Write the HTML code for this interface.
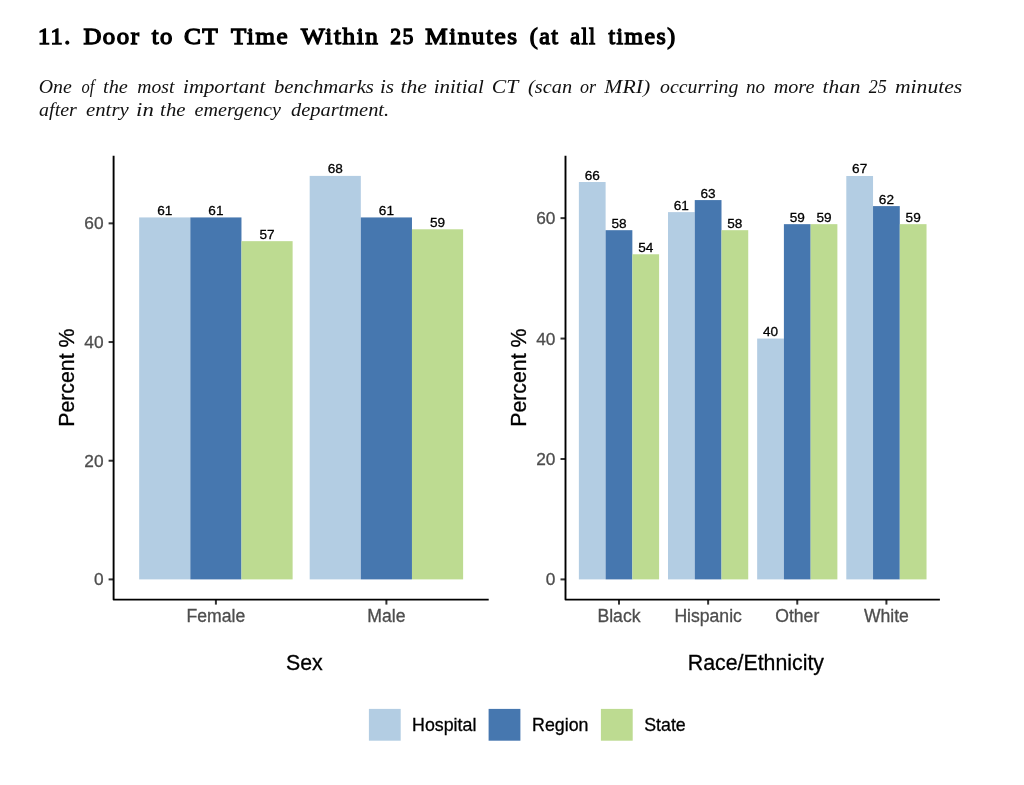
<!DOCTYPE html>
<html><head><meta charset="utf-8">
<style>
html,body{margin:0;padding:0;background:#fff;width:1024px;height:785px;overflow:hidden;}
svg{position:absolute;left:0;top:0;will-change:transform;filter:blur(0.3px);}
.sans{font-family:"Liberation Sans",sans-serif;}
.serif{font-family:"Liberation Serif",serif;}
</style></head>
<body>
<svg width="1024" height="785" viewBox="0 0 1024 785">
<g class="serif">
<text transform="translate(37.89,44.4) scale(1.01,1)" font-size="24" fill="#000" stroke="#000" stroke-width="1.3" letter-spacing="1.5">11.</text>
<text transform="translate(83.4,44.4) scale(1.0327,1)" font-size="24" fill="#000" stroke="#000" stroke-width="1.3" letter-spacing="1.5">Door</text>
<text transform="translate(151.63,44.4) scale(1.0286,1)" font-size="24" fill="#000" stroke="#000" stroke-width="1.3" letter-spacing="1.5">to</text>
<text transform="translate(183.9,44.4) scale(1.0545,1)" font-size="24" fill="#000" stroke="#000" stroke-width="1.3" letter-spacing="1.5">CT</text>
<text transform="translate(231.04,44.4) scale(1.0411,1)" font-size="24" fill="#000" stroke="#000" stroke-width="1.3" letter-spacing="1.5">Time</text>
<text transform="translate(301.05,44.4) scale(1.0493,1)" font-size="24" fill="#000" stroke="#000" stroke-width="1.3" letter-spacing="1.5">Within</text>
<text transform="translate(390.3,44.4) scale(0.9077,1)" font-size="24" fill="#000" stroke="#000" stroke-width="1.3" letter-spacing="1.5">25</text>
<text transform="translate(425.3,44.4) scale(1.0466,1)" font-size="24" fill="#000" stroke="#000" stroke-width="1.3" letter-spacing="1.5">Minutes</text>
<text transform="translate(529.7,44.4) scale(1.0,1)" font-size="24" fill="#000" stroke="#000" stroke-width="1.3" letter-spacing="1.5">(at</text>
<text transform="translate(570.3,44.4) scale(0.9161,1)" font-size="24" fill="#000" stroke="#000" stroke-width="1.3" letter-spacing="1.5">all</text>
<text transform="translate(608.49,44.4) scale(0.987,1)" font-size="24" fill="#000" stroke="#000" stroke-width="1.3" letter-spacing="1.5">times)</text>
<text transform="translate(38.67,93.2) scale(1.0323,1)" font-size="19.2" font-style="italic" fill="#111">One</text>
<text transform="translate(81.5,93.2) scale(0.8588,1)" font-size="19.2" font-style="italic" fill="#111">of</text>
<text transform="translate(103.04,93.2) scale(1.0591,1)" font-size="19.2" font-style="italic" fill="#111">the</text>
<text transform="translate(137.3,93.2) scale(1.0243,1)" font-size="19.2" font-style="italic" fill="#111">most</text>
<text transform="translate(183.11,93.2) scale(1.0853,1)" font-size="19.2" font-style="italic" fill="#111">important</text>
<text transform="translate(273.92,93.2) scale(1.078,1)" font-size="19.2" font-style="italic" fill="#111">benchmarks</text>
<text transform="translate(379.9,93.2) scale(1.1,1)" font-size="19.2" font-style="italic" fill="#111">is</text>
<text transform="translate(400.42,93.2) scale(1.125,1)" font-size="19.2" font-style="italic" fill="#111">the</text>
<text transform="translate(433.71,93.2) scale(1.0933,1)" font-size="19.2" font-style="italic" fill="#111">initial</text>
<text transform="translate(491.87,93.2) scale(1.1292,1)" font-size="19.2" font-style="italic" fill="#111">CT</text>
<text transform="translate(528.1,93.2) scale(1.0585,1)" font-size="19.2" font-style="italic" fill="#111">(scan</text>
<text transform="translate(579.9,93.2) scale(0.9412,1)" font-size="19.2" font-style="italic" fill="#111">or</text>
<text transform="translate(604.3,93.2) scale(1.1325,1)" font-size="19.2" font-style="italic" fill="#111">MRI)</text>
<text transform="translate(660.1,93.2) scale(1.0333,1)" font-size="19.2" font-style="italic" fill="#111">occurring</text>
<text transform="translate(746.0,93.2) scale(0.9947,1)" font-size="19.2" font-style="italic" fill="#111">no</text>
<text transform="translate(773.7,93.2) scale(1.0513,1)" font-size="19.2" font-style="italic" fill="#111">more</text>
<text transform="translate(822.59,93.2) scale(1.1125,1)" font-size="19.2" font-style="italic" fill="#111">than</text>
<text transform="translate(868.7,93.2) scale(0.9421,1)" font-size="19.2" font-style="italic" fill="#111">25</text>
<text transform="translate(895.0,93.2) scale(1.1254,1)" font-size="19.2" font-style="italic" fill="#111">minutes</text>
<text transform="translate(39.1,116.4) scale(1.0405,1)" font-size="19.2" font-style="italic" fill="#111">after</text>
<text transform="translate(86.0,116.4) scale(1.0825,1)" font-size="19.2" font-style="italic" fill="#111">entry</text>
<text transform="translate(136.12,116.4) scale(1.1846,1)" font-size="19.2" font-style="italic" fill="#111">in</text>
<text transform="translate(160.12,116.4) scale(1.0818,1)" font-size="19.2" font-style="italic" fill="#111">the</text>
<text transform="translate(194.6,116.4) scale(1.047,1)" font-size="19.2" font-style="italic" fill="#111">emergency</text>
<text transform="translate(290.9,116.4) scale(1.0659,1)" font-size="19.2" font-style="italic" fill="#111">department.</text>
</g>
<g class="sans">
<rect x="139.17" y="217.43" width="51.15" height="361.97" fill="#B3CDE3"/>
<text x="164.75" y="214.93" font-size="13.6" fill="#000" stroke="#000" stroke-width="0.3" text-anchor="middle" >61</text>
<rect x="190.32" y="217.43" width="51.15" height="361.97" fill="#4677AF"/>
<text x="215.90" y="214.93" font-size="13.6" fill="#000" stroke="#000" stroke-width="0.3" text-anchor="middle" >61</text>
<rect x="241.47" y="241.16" width="51.15" height="338.24" fill="#BDDB91"/>
<text x="267.05" y="238.66" font-size="13.6" fill="#000" stroke="#000" stroke-width="0.3" text-anchor="middle" >57</text>
<line x1="215.90" y1="599.60" x2="215.90" y2="604.60" stroke="#333" stroke-width="2"/>
<text x="215.90" y="622.00" font-size="17.6" fill="#4D4D4D" stroke="#4D4D4D" stroke-width="0.3" text-anchor="middle" >Female</text>
<rect x="309.67" y="175.89" width="51.15" height="403.51" fill="#B3CDE3"/>
<text x="335.25" y="173.39" font-size="13.6" fill="#000" stroke="#000" stroke-width="0.3" text-anchor="middle" >68</text>
<rect x="360.82" y="217.43" width="51.15" height="361.97" fill="#4677AF"/>
<text x="386.40" y="214.93" font-size="13.6" fill="#000" stroke="#000" stroke-width="0.3" text-anchor="middle" >61</text>
<rect x="411.97" y="229.29" width="51.15" height="350.11" fill="#BDDB91"/>
<text x="437.55" y="226.79" font-size="13.6" fill="#000" stroke="#000" stroke-width="0.3" text-anchor="middle" >59</text>
<line x1="386.40" y1="599.60" x2="386.40" y2="604.60" stroke="#333" stroke-width="2"/>
<text x="386.40" y="622.00" font-size="17.6" fill="#4D4D4D" stroke="#4D4D4D" stroke-width="0.3" text-anchor="middle" >Male</text>
<line x1="108.60" y1="579.40" x2="113.60" y2="579.40" stroke="#333" stroke-width="2"/>
<text x="103.50" y="585.40" font-size="17.3" fill="#4D4D4D" stroke="#4D4D4D" stroke-width="0.3" text-anchor="end" >0</text>
<line x1="108.60" y1="460.72" x2="113.60" y2="460.72" stroke="#333" stroke-width="2"/>
<text x="103.50" y="466.72" font-size="17.3" fill="#4D4D4D" stroke="#4D4D4D" stroke-width="0.3" text-anchor="end" >20</text>
<line x1="108.60" y1="342.04" x2="113.60" y2="342.04" stroke="#333" stroke-width="2"/>
<text x="103.50" y="348.04" font-size="17.3" fill="#4D4D4D" stroke="#4D4D4D" stroke-width="0.3" text-anchor="end" >40</text>
<line x1="108.60" y1="223.36" x2="113.60" y2="223.36" stroke="#333" stroke-width="2"/>
<text x="103.50" y="229.36" font-size="17.3" fill="#4D4D4D" stroke="#4D4D4D" stroke-width="0.3" text-anchor="end" >60</text>
<path d="M113.60,155.70 V599.60 H488.70" fill="none" stroke="#000" stroke-width="1.9" stroke-linejoin="round"/>
<text x="74.10" y="377.65" font-size="21.3" fill="#000" stroke="#000" stroke-width="0.3" text-anchor="middle" transform="rotate(-90 74.10 377.65)">Percent %</text>
<text x="304.30" y="670.40" font-size="21.3" fill="#000" stroke="#000" stroke-width="0.3" text-anchor="middle" >Sex</text>
<rect x="578.87" y="182.01" width="26.74" height="397.39" fill="#B3CDE3"/>
<text x="592.24" y="179.51" font-size="13.6" fill="#000" stroke="#000" stroke-width="0.3" text-anchor="middle" >66</text>
<rect x="605.61" y="230.18" width="26.74" height="349.22" fill="#4677AF"/>
<text x="618.99" y="227.68" font-size="13.6" fill="#000" stroke="#000" stroke-width="0.3" text-anchor="middle" >58</text>
<rect x="632.36" y="254.27" width="26.74" height="325.13" fill="#BDDB91"/>
<text x="645.73" y="251.77" font-size="13.6" fill="#000" stroke="#000" stroke-width="0.3" text-anchor="middle" >54</text>
<line x1="618.99" y1="599.60" x2="618.99" y2="604.60" stroke="#333" stroke-width="2"/>
<text x="618.99" y="622.00" font-size="17.6" fill="#4D4D4D" stroke="#4D4D4D" stroke-width="0.3" text-anchor="middle" >Black</text>
<rect x="668.01" y="212.12" width="26.74" height="367.28" fill="#B3CDE3"/>
<text x="681.39" y="209.62" font-size="13.6" fill="#000" stroke="#000" stroke-width="0.3" text-anchor="middle" >61</text>
<rect x="694.76" y="200.08" width="26.74" height="379.32" fill="#4677AF"/>
<text x="708.13" y="197.58" font-size="13.6" fill="#000" stroke="#000" stroke-width="0.3" text-anchor="middle" >63</text>
<rect x="721.50" y="230.18" width="26.74" height="349.22" fill="#BDDB91"/>
<text x="734.87" y="227.68" font-size="13.6" fill="#000" stroke="#000" stroke-width="0.3" text-anchor="middle" >58</text>
<line x1="708.13" y1="599.60" x2="708.13" y2="604.60" stroke="#333" stroke-width="2"/>
<text x="708.13" y="622.00" font-size="17.6" fill="#4D4D4D" stroke="#4D4D4D" stroke-width="0.3" text-anchor="middle" >Hispanic</text>
<rect x="757.16" y="338.56" width="26.74" height="240.84" fill="#B3CDE3"/>
<text x="770.53" y="336.06" font-size="13.6" fill="#000" stroke="#000" stroke-width="0.3" text-anchor="middle" >40</text>
<rect x="783.90" y="224.16" width="26.74" height="355.24" fill="#4677AF"/>
<text x="797.27" y="221.66" font-size="13.6" fill="#000" stroke="#000" stroke-width="0.3" text-anchor="middle" >59</text>
<rect x="810.64" y="224.16" width="26.74" height="355.24" fill="#BDDB91"/>
<text x="824.01" y="221.66" font-size="13.6" fill="#000" stroke="#000" stroke-width="0.3" text-anchor="middle" >59</text>
<line x1="797.27" y1="599.60" x2="797.27" y2="604.60" stroke="#333" stroke-width="2"/>
<text x="797.27" y="622.00" font-size="17.6" fill="#4D4D4D" stroke="#4D4D4D" stroke-width="0.3" text-anchor="middle" >Other</text>
<rect x="846.30" y="175.99" width="26.74" height="403.41" fill="#B3CDE3"/>
<text x="859.67" y="173.49" font-size="13.6" fill="#000" stroke="#000" stroke-width="0.3" text-anchor="middle" >67</text>
<rect x="873.04" y="206.10" width="26.74" height="373.30" fill="#4677AF"/>
<text x="886.41" y="203.60" font-size="13.6" fill="#000" stroke="#000" stroke-width="0.3" text-anchor="middle" >62</text>
<rect x="899.79" y="224.16" width="26.74" height="355.24" fill="#BDDB91"/>
<text x="913.16" y="221.66" font-size="13.6" fill="#000" stroke="#000" stroke-width="0.3" text-anchor="middle" >59</text>
<line x1="886.41" y1="599.60" x2="886.41" y2="604.60" stroke="#333" stroke-width="2"/>
<text x="886.41" y="622.00" font-size="17.6" fill="#4D4D4D" stroke="#4D4D4D" stroke-width="0.3" text-anchor="middle" >White</text>
<line x1="560.50" y1="579.40" x2="565.50" y2="579.40" stroke="#333" stroke-width="2"/>
<text x="555.40" y="585.40" font-size="17.3" fill="#4D4D4D" stroke="#4D4D4D" stroke-width="0.3" text-anchor="end" >0</text>
<line x1="560.50" y1="458.98" x2="565.50" y2="458.98" stroke="#333" stroke-width="2"/>
<text x="555.40" y="464.98" font-size="17.3" fill="#4D4D4D" stroke="#4D4D4D" stroke-width="0.3" text-anchor="end" >20</text>
<line x1="560.50" y1="338.56" x2="565.50" y2="338.56" stroke="#333" stroke-width="2"/>
<text x="555.40" y="344.56" font-size="17.3" fill="#4D4D4D" stroke="#4D4D4D" stroke-width="0.3" text-anchor="end" >40</text>
<line x1="560.50" y1="218.14" x2="565.50" y2="218.14" stroke="#333" stroke-width="2"/>
<text x="555.40" y="224.14" font-size="17.3" fill="#4D4D4D" stroke="#4D4D4D" stroke-width="0.3" text-anchor="end" >60</text>
<path d="M565.50,155.70 V599.60 H939.90" fill="none" stroke="#000" stroke-width="1.9" stroke-linejoin="round"/>
<text x="526.00" y="377.65" font-size="21.3" fill="#000" stroke="#000" stroke-width="0.3" text-anchor="middle" transform="rotate(-90 526.00 377.65)">Percent %</text>
<text x="755.90" y="670.40" font-size="21.3" fill="#000" stroke="#000" stroke-width="0.3" text-anchor="middle" >Race/Ethnicity</text>
<rect x="368.90" y="708.90" width="31.80" height="31.80" fill="#B3CDE3"/>
<text x="412.10" y="731.20" font-size="17.8" fill="#000" stroke="#000" stroke-width="0.3" text-anchor="start" >Hospital</text>
<rect x="488.60" y="708.90" width="31.80" height="31.80" fill="#4677AF"/>
<text x="532.10" y="731.20" font-size="17.8" fill="#000" stroke="#000" stroke-width="0.3" text-anchor="start" >Region</text>
<rect x="600.90" y="708.90" width="31.80" height="31.80" fill="#BDDB91"/>
<text x="644.20" y="731.20" font-size="17.8" fill="#000" stroke="#000" stroke-width="0.3" text-anchor="start" >State</text>
</g>
</svg>
</body></html>
